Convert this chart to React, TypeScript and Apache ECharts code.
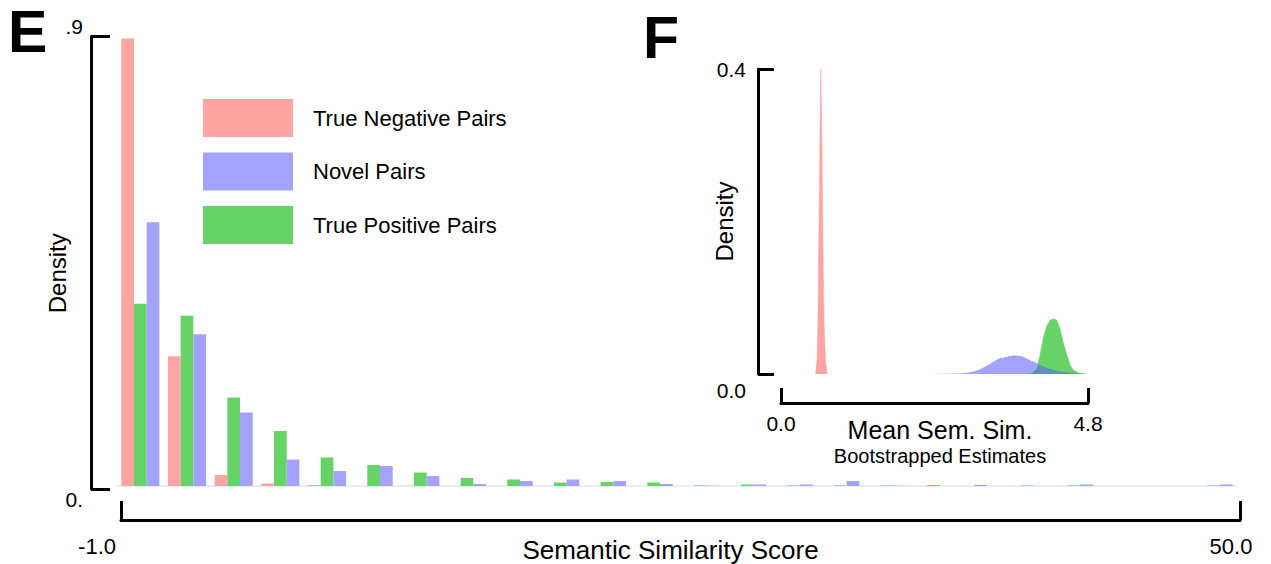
import React, { useEffect, useRef } from "react";
import * as echarts from "echarts";

// ---- Panel E: histogram (density per bin) ----
const binStarts = [
  "-1.0", "1.1", "3.3", "5.4", "7.5", "9.6", "11.8", "13.9", "16.0", "18.1", "20.3", "22.4",
  "24.5", "26.6", "28.8", "30.9", "33.0", "35.1", "37.3", "39.4", "41.5", "43.6", "45.8", "47.9",
];
const trueNegative = [
  0.896, 0.26, 0.022, 0.005, 0.002, 0, 0.0005, 0, 0, 0, 0, 0,
  0, 0, 0, 0, 0, 0, 0, 0, 0, 0, 0, 0,
];
const truePositive = [
  0.365, 0.341, 0.177, 0.11, 0.057, 0.042, 0.027, 0.016, 0.013, 0.007, 0.008, 0.007,
  0.001, 0.003, 0.001, 0.001, 0.001, 0.002, 0.002, 0.001, 0.001, 0, 0, 0.001,
];
const novel = [
  0.528, 0.304, 0.147, 0.053, 0.03, 0.04, 0.02, 0.004, 0.01, 0.013, 0.01, 0.004,
  0.0005, 0.003, 0.003, 0.01, 0.0005, 0, 0, 0, 0.003, 0, 0, 0.003,
];
const mainXRange = [-1.0, 50.0];
const mainYRange = [0, 0.9];

// ---- Panel F: bootstrapped mean densities [x, density] ----
const negBoot: [number, number][] = [
  [0.54, 0], [0.563, 0.018], [0.578, 0.071], [0.589, 0.163], [0.602, 0.255], [0.614, 0.346],
  [0.622, 0.401], [0.633, 0.346], [0.646, 0.255], [0.657, 0.163], [0.672, 0.071], [0.696, 0.018],
  [0.72, 0],
];
const posBoot: [number, number][] = [
  [3.82, 0], [3.92, 0.001], [4.0, 0.0075], [4.05, 0.0249], [4.1, 0.0468], [4.15, 0.062],
  [4.21, 0.0708], [4.24, 0.0718], [4.26, 0.0722], [4.28, 0.0716], [4.31, 0.0708], [4.36, 0.06],
  [4.41, 0.0424], [4.47, 0.0249], [4.52, 0.0118], [4.57, 0.0052], [4.65, 0.0017], [4.78, 0],
];
const novelBoot: [number, number][] = [
  [2.36, 0], [2.56, 0.0003], [2.77, 0.0005], [2.92, 0.0017], [3.0, 0.003], [3.08, 0.0052],
  [3.16, 0.0082], [3.24, 0.0118], [3.3, 0.0152], [3.35, 0.0178], [3.4, 0.02], [3.44, 0.0212],
  [3.47, 0.0208], [3.5, 0.0226], [3.53, 0.0221], [3.56, 0.0238], [3.59, 0.0232], [3.62, 0.0246],
  [3.65, 0.024], [3.68, 0.0247], [3.71, 0.0236], [3.74, 0.024], [3.77, 0.0226], [3.8, 0.0222],
  [3.83, 0.0205], [3.86, 0.0196], [3.92, 0.0172], [3.97, 0.0153], [4.05, 0.0118], [4.12, 0.0092],
  [4.18, 0.0075], [4.25, 0.0056], [4.33, 0.0039], [4.41, 0.0027], [4.49, 0.0017], [4.56, 0.001],
  [4.64, 0.0004], [4.78, 0],
];
const insetXRange = [0, 4.8];
const insetYRange = [0, 0.4];

const PINK = "#ffa3a3";
const GREEN = "#66d366";
const BLUE = "#a3a3ff";
const FONT = "'Liberation Sans', Arial, Helvetica, sans-serif";

export default function App() {
  const ref = useRef<HTMLDivElement>(null);
  useEffect(() => {
    if (!ref.current) return;
    const chart = echarts.init(ref.current, undefined, { renderer: "svg" });
    const axisLine = { show: true, onZero: false, lineStyle: { color: "#000", width: 3 } };
    const option: any = {
      animation: false,
      backgroundColor: "#fff",
      textStyle: { fontFamily: FONT, color: "#000" },
      grid: [
        { left: 117, top: 36.5, width: 1120, height: 449.5, outerBoundsMode: "none", containLabel: false },
        { left: 121, top: 36.5, width: 1119, height: 452.5, outerBoundsMode: "none", containLabel: false },
        { left: 781, top: 69, width: 307, height: 305, outerBoundsMode: "none", containLabel: false },
      ],
      legend: {
        orient: "vertical",
        left: 203,
        top: 99,
        padding: 0,
        itemWidth: 90,
        itemHeight: 38,
        itemGap: 15.5,
        icon: "rect",
        selectedMode: false,
        data: ["True Negative Pairs", "Novel Pairs", "True Positive Pairs"],
        textStyle: { fontFamily: FONT, fontSize: 22, color: "#000", padding: [6, 0, 0, 15] },
      },
      xAxis: [
        {
          type: "category",
          gridIndex: 0,
          data: binStarts,
          axisLine: { show: true, onZero: false, lineStyle: { color: "#e3e6ef", width: 1.5 } },
          axisTick: { show: false },
          axisLabel: { show: false },
          splitLine: { show: false },
        },
        {
          type: "value",
          gridIndex: 1,
          min: mainXRange[0],
          max: mainXRange[1],
          interval: mainXRange[1] - mainXRange[0],
          position: "bottom",
          offset: 31,
          axisLine,
          axisTick: { show: true, inside: true, length: 19, lineStyle: { color: "#000", width: 3 } },
          splitLine: { show: false },
          axisLabel: {
            margin: 15,
            alignMinLabel: "right",
            alignMaxLabel: "center",
            formatter: (v: number) => (v === mainXRange[0] ? `{l|${v.toFixed(1)}}` : `{r|${v.toFixed(1)}}`),
            rich: {
              l: { fontSize: 22, fontFamily: FONT, color: "#000", padding: [0, 5, 0, 0] },
              r: { fontSize: 22, fontFamily: FONT, color: "#000", padding: [0, 18, 0, 0] },
            },
          },
          name: "Semantic Similarity Score",
          nameLocation: "middle",
          nameGap: 17,
          nameMoveOverlap: false,
          nameTextStyle: { fontSize: 26, fontFamily: FONT, color: "#000", padding: [0, 20, 0, 0] },
        },
        {
          type: "value",
          gridIndex: 2,
          min: insetXRange[0],
          max: insetXRange[1],
          interval: insetXRange[1] - insetXRange[0],
          position: "bottom",
          offset: 29,
          axisLine,
          axisTick: { show: true, inside: true, length: 15, lineStyle: { color: "#000", width: 3 } },
          splitLine: { show: false },
          axisLabel: {
            margin: 10,
            fontSize: 21,
            color: "#000",
            formatter: (v: number) => v.toFixed(1),
          },
          name: "{a|Mean Sem. Sim.}\n{b|Bootstrapped Estimates}",
          nameLocation: "middle",
          nameGap: 14,
          nameMoveOverlap: false,
          nameTextStyle: {
            padding: [0, 0, 0, 11],
            rich: {
              a: { fontSize: 25, lineHeight: 26, fontFamily: FONT, color: "#000", align: "center" },
              b: { fontSize: 20, lineHeight: 26, fontFamily: FONT, color: "#000", align: "center" },
            },
          },
        },
      ],
      yAxis: [
        {
          type: "value",
          gridIndex: 0,
          min: mainYRange[0],
          max: mainYRange[1],
          show: false,
          splitLine: { show: false },
        },
        {
          type: "value",
          gridIndex: 1,
          min: mainYRange[0],
          max: mainYRange[1],
          interval: mainYRange[1] - mainYRange[0],
          position: "left",
          offset: 30,
          axisLine,
          axisTick: { show: true, inside: true, length: 19, lineStyle: { color: "#000", width: 3 } },
          splitLine: { show: false },
          axisLabel: {
            margin: 8,
            fontSize: 21,
            color: "#000",
            verticalAlignMinLabel: "top",
            verticalAlignMaxLabel: "bottom",
            formatter: (v: number) => (v === 0 ? "0." : v.toFixed(1).replace(/^0/, "")),
          },
          name: "Density",
          nameLocation: "middle",
          nameGap: 22,
          nameMoveOverlap: false,
          nameTextStyle: { fontSize: 24, fontFamily: FONT, color: "#000", padding: [0, 21, 0, 0] },
        },
        {
          type: "value",
          gridIndex: 2,
          min: insetYRange[0],
          max: insetYRange[1],
          interval: insetYRange[1] - insetYRange[0],
          position: "left",
          offset: 23,
          axisLine,
          axisTick: { show: true, inside: true, length: 16, lineStyle: { color: "#000", width: 3 } },
          splitLine: { show: false },
          axisLabel: {
            margin: 12,
            color: "#000",
            verticalAlignMinLabel: "top",
            formatter: (v: number) => (v === 0 ? `{m|${v.toFixed(1)}}` : `{n|${v.toFixed(1)}}`),
            rich: {
              m: { fontSize: 21, fontFamily: FONT, color: "#000", padding: [6, 0, 0, 0] },
              n: { fontSize: 21, fontFamily: FONT, color: "#000" },
            },
          },
          name: "Density",
          nameLocation: "middle",
          nameGap: 22,
          nameMoveOverlap: false,
          nameTextStyle: { fontSize: 24, fontFamily: FONT, color: "#000" },
        },
      ],
      series: [
        {
          name: "True Negative Pairs",
          type: "bar",
          xAxisIndex: 0,
          yAxisIndex: 0,
          data: trueNegative,
          barWidth: 12.7,
          barGap: "0%",
          itemStyle: { color: PINK },
          silent: true,
        },
        {
          name: "True Positive Pairs",
          type: "bar",
          xAxisIndex: 0,
          yAxisIndex: 0,
          data: truePositive,
          barWidth: 12.7,
          barGap: "0%",
          itemStyle: { color: GREEN },
          silent: true,
        },
        {
          name: "Novel Pairs",
          type: "bar",
          xAxisIndex: 0,
          yAxisIndex: 0,
          data: novel,
          barWidth: 12.7,
          barGap: "0%",
          itemStyle: { color: BLUE },
          silent: true,
        },
        {
          name: "neg-boot",
          type: "line",
          xAxisIndex: 2,
          yAxisIndex: 2,
          data: negBoot,
          symbol: "none",
          lineStyle: { width: 0.5, color: PINK },
          itemStyle: { color: PINK },
          areaStyle: { color: PINK, opacity: 1 },
          silent: true,
        },
        {
          name: "pos-boot",
          type: "line",
          xAxisIndex: 2,
          yAxisIndex: 2,
          data: posBoot,
          symbol: "none",
          lineStyle: { width: 0.5, color: GREEN },
          itemStyle: { color: GREEN },
          areaStyle: { color: GREEN, opacity: 1 },
          silent: true,
        },
        {
          name: "novel-boot",
          type: "line",
          xAxisIndex: 2,
          yAxisIndex: 2,
          data: novelBoot,
          symbol: "none",
          lineStyle: { width: 0 },
          itemStyle: { color: "rgba(90,90,255,0.55)" },
          areaStyle: { color: "rgba(90,90,255,0.55)", opacity: 1 },
          silent: true,
        },
      ],
      graphic: [
        {
          type: "text",
          x: 8,
          y: 32,
          style: {
            text: "E",
            font: `bold 59px ${FONT}`,
            lineHeight: 46,
            fill: "#000",
            verticalAlign: "middle",
          },
        },
        {
          type: "text",
          x: 643,
          y: 38,
          style: {
            text: "F",
            font: `bold 59px ${FONT}`,
            lineHeight: 46,
            fill: "#000",
            verticalAlign: "middle",
          },
        },
      ],
    };
    chart.setOption(option);
    return () => chart.dispose();
  }, []);
  return (
    <div
      ref={ref}
      style={{ position: "fixed", left: 0, top: 0, width: 1271, height: 564, background: "#fff" }}
    />
  );
}
